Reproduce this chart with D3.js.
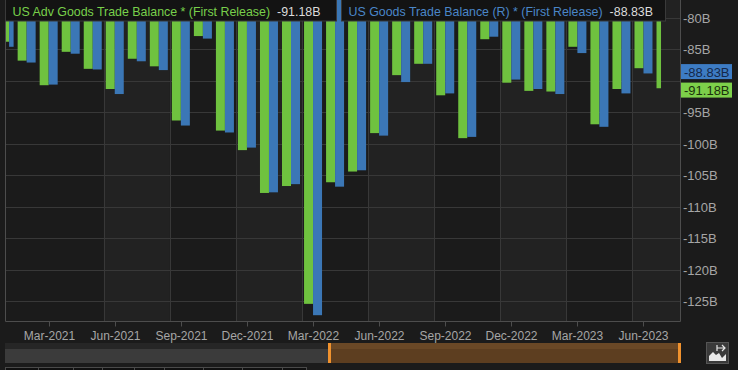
<!DOCTYPE html>
<html>
<head>
<meta charset="utf-8">
<script src="https://cdn.jsdelivr.net/npm/d3@7"></script>
<style>
  html, body { margin: 0; padding: 0; background: #1b1b1b; overflow: hidden; }
  svg { display: block; font-family: "Liberation Sans", Arial, sans-serif; }
</style>
</head>
<body>
<div id="chart"></div>
<script>
// months on the x axis (one pair of bars each)
const months = [
  "Jan-2021","Feb-2021","Mar-2021","Apr-2021","May-2021","Jun-2021","Jul-2021","Aug-2021",
  "Sep-2021","Oct-2021","Nov-2021","Dec-2021","Jan-2022","Feb-2022","Mar-2022","Apr-2022",
  "May-2022","Jun-2022","Jul-2022","Aug-2022","Sep-2022","Oct-2022","Nov-2022","Dec-2022",
  "Jan-2023","Feb-2023","Mar-2023","Apr-2023","May-2023","Jun-2023","Jul-2023"
];
const tickMonths = ["Mar-2021","Jun-2021","Sep-2021","Dec-2021","Mar-2022","Jun-2022",
                    "Sep-2022","Dec-2022","Mar-2023","Jun-2023"];
const yTicks = [-80, -85, -90, -95, -100, -105, -110, -115, -120, -125];

// US Adv Goods Trade Balance * (First Release), billions
const advGoods = [-83.8, -86.8, -90.7, -85.4, -88.1, -91.3, -86.5, -87.7, -96.3, -82.9,
                  -97.9, -101.0, -107.8, -106.7, -125.4, -106.1, -104.4, -98.3, -89.1, -87.3,
                  -92.3, -99.1, -83.4, -90.3, -91.6, -91.7, -84.6, -96.9, -91.3, -88.0, -91.18];
// US Goods Trade Balance (R) * (First Release), billions
const goods = [-84.6, -87.1, -90.6, -85.7, -88.2, -92.1, -86.9, -88.3, -97.1, -83.3,
               -98.2, -100.6, -107.7, -106.4, -127.2, -106.8, -104.2, -98.7, -90.2, -87.3,
               -92.0, -98.9, -83.0, -89.8, -91.3, -92.1, -85.6, -97.3, -92.0, -88.83];

const seriesNames = ["US Adv Goods Trade Balance * (First Release)",
                     "US Goods Trade Balance (R) * (First Release)"];

const width = 738, height = 370;
const plot = {left: 5.5, right: 680.5, top: 0, bottom: 321.5};
const green = "#6fc23f", blue = "#3b77b6";

const svg = d3.select('#chart').append('svg')
  .attr('width', width).attr('height', height);

svg.append('rect').attr('width', width).attr('height', height).attr('fill', '#1b1b1b');

const x = d3.scaleBand()
  .domain(months)
  .range([-6.4, -6.4 + 22.03 * months.length])
  .padding(0);

const y = d3.scaleLinear()
  .domain([-128.2, -77.175])
  .range([plot.bottom, plot.top]);

const fmt = v => v.toFixed(2) + 'B';
const center = m => x(m) + x.bandwidth() / 2;

// alternating background bands between vertical grid lines
const gridMonths = tickMonths.slice(1);
const gridX = gridMonths.map(m => x(m));
gridX.forEach((gx, i) => {
  if (i % 2 === 0) {
    const nx = i + 1 < gridX.length ? gridX[i + 1] : plot.right;
    svg.append('rect')
      .attr('x', gx).attr('y', plot.top)
      .attr('width', nx - gx).attr('height', plot.bottom - plot.top)
      .attr('fill', '#222222');
  }
});

// grid
svg.append('g').selectAll('line.h')
  .data(yTicks).enter().append('line')
  .attr('x1', plot.left).attr('x2', plot.right)
  .attr('y1', d => Math.round(y(d)) + 0.5).attr('y2', d => Math.round(y(d)) + 0.5)
  .attr('stroke', '#383838');
svg.append('g').selectAll('line.v')
  .data(gridX).enter().append('line')
  .attr('x1', d => Math.round(d) + 0.5).attr('x2', d => Math.round(d) + 0.5)
  .attr('y1', plot.top).attr('y2', plot.bottom)
  .attr('stroke', '#383838');

// bars hang from the top of the plot down to the value
svg.append('clipPath').attr('id', 'clip').append('rect')
  .attr('x', plot.left).attr('y', plot.top)
  .attr('width', plot.right - plot.left).attr('height', plot.bottom - plot.top);

const barW = 9;
const last = months.length - 1;
function barRect(i, s) {
  const c = center(months[i]);
  // first and last months are drawn at half width, pushed to the inside
  if (i === 0) return [c + s * barW / 2, barW / 2];
  if (i === last) return [c - barW + s * barW / 2, barW / 2];
  return [c - barW + s * barW, barW];
}

const bars = svg.append('g').attr('clip-path', 'url(#clip)');
[advGoods, goods].forEach((vals, s) => {
  bars.selectAll('rect.s' + s)
    .data(vals).enter().append('rect')
    .attr('class', 's' + s)
    .attr('x', (d, i) => barRect(i, s)[0])
    .attr('width', (d, i) => barRect(i, s)[1])
    .attr('y', plot.top)
    .attr('height', d => y(d) - plot.top)
    .attr('fill', s === 0 ? green : blue);
});

// frame
const frame = svg.append('g').attr('stroke', '#4d4d4d').attr('fill', 'none');
frame.append('line').attr('x1', plot.left).attr('x2', plot.left).attr('y1', 0).attr('y2', plot.bottom);
frame.append('line').attr('x1', plot.right).attr('x2', plot.right).attr('y1', 0).attr('y2', plot.bottom);
frame.append('line').attr('x1', plot.left).attr('x2', plot.right).attr('y1', plot.bottom).attr('y2', plot.bottom);

// x axis
const xAxis = svg.append('g');
tickMonths.forEach(m => {
  const cx = Math.round(center(m)) + 0.5;
  xAxis.append('line').attr('x1', cx).attr('x2', cx)
    .attr('y1', plot.bottom).attr('y2', plot.bottom + 5).attr('stroke', '#4d4d4d');
  xAxis.append('text').attr('x', cx).attr('y', 339.5)
    .attr('text-anchor', 'middle').attr('fill', '#a6a6a6').attr('font-size', 12)
    .text(m);
});

// value tags on the right axis, pushed apart when they overlap
const tagH = 15, minSep = 18.5;
let yb = y(goods[goods.length - 1]), yg = y(advGoods[advGoods.length - 1]);
if (yg - yb < minSep) {
  const mid = (yb + yg) / 2;
  yb = mid - minSep / 2; yg = mid + minSep / 2;
}
const tags = [
  {v: goods[goods.length - 1], cy: yb, fill: '#3d7cc4', text: '#15284a'},
  {v: advGoods[advGoods.length - 1], cy: yg, fill: '#7dd04a', text: '#1b300c'}
];

// right axis labels (skipped where a tag sits)
svg.append('g').selectAll('text')
  .data(yTicks.filter(t => tags.every(g => Math.abs(y(t) - g.cy) > 10)))
  .enter().append('text')
  .attr('x', 683).attr('y', d => y(d) + 5)
  .attr('fill', '#a6a6a6').attr('font-size', 13)
  .text(d => d + 'B');

tags.forEach(t => {
  svg.append('rect').attr('x', 681).attr('y', t.cy - tagH / 2)
    .attr('width', 51).attr('height', tagH).attr('fill', t.fill);
  svg.append('text').attr('x', 684).attr('y', t.cy + 5)
    .attr('fill', t.text).attr('font-size', 13).text(fmt(t.v));
});

// legend boxes at the top
const legend = [
  {x: 5.5, w: 331, name: seriesNames[0], color: '#78d04b', v: advGoods[advGoods.length - 1]},
  {x: 341.5, w: 324, name: seriesNames[1], color: '#4a86c8', v: goods[goods.length - 1]}
];
legend.forEach(l => {
  svg.append('rect').attr('x', l.x).attr('y', -1).attr('width', l.w).attr('height', 22)
    .attr('fill', '#131313').attr('stroke', '#3a3a3a');
  const t = svg.append('text').attr('x', l.x + 7).attr('y', 15.5).attr('font-size', 12.4);
  t.append('tspan').attr('fill', l.color).text(l.name);
  t.append('tspan').attr('fill', '#dcdcdc').attr('dx', 7).text(fmt(l.v));
});

// navigator strip
const nav = svg.append('g');
nav.append('rect').attr('x', 5).attr('y', 343).attr('width', 675).attr('height', 20).attr('fill', '#262626');
nav.append('rect').attr('x', 5).attr('y', 349).attr('width', 675).attr('height', 14).attr('fill', '#3b3b3b');
nav.append('rect').attr('x', 329).attr('y', 343).attr('width', 351).attr('height', 20).attr('fill', '#6a4826');
nav.append('rect').attr('x', 329).attr('y', 349).attr('width', 351).attr('height', 14).attr('fill', '#5d3e20');
nav.append('rect').attr('x', 328).attr('y', 343).attr('width', 3).attr('height', 20).attr('fill', '#f0922e');
nav.append('rect').attr('x', 678).attr('y', 343).attr('width', 3).attr('height', 20).attr('fill', '#f0922e');

// icon button
const icon = svg.append('g');
icon.append('rect').attr('x', 706.5).attr('y', 342.5).attr('width', 22).attr('height', 21)
  .attr('fill', '#3a3a3a').attr('stroke', '#555');
icon.append('path').attr('d', 'M709,361 L709,356 L713,352 L716,355 L719,353 L722,358 L726,354 L726,361 Z')
  .attr('fill', '#e8e8e8');
icon.append('path').attr('d', 'M717,348 L725,348 M722,345 L725,348 L722,351 M717,345 L717,351')
  .attr('stroke', '#e8e8e8').attr('stroke-width', 1.2).attr('fill', 'none');

// range tabs peeking in at the bottom
const tabs = svg.append('g');
[5, 38, 73, 102, 134, 164, 203, 242, 282].forEach((tx, i, a) => {
  const nx = i + 1 < a.length ? a[i + 1] : 306;
  tabs.append('rect').attr('x', tx + 0.5).attr('y', 367.5).attr('width', nx - tx).attr('height', 8)
    .attr('fill', '#101010').attr('stroke', '#4a4a4a');
});
</script>
</body>
</html>
